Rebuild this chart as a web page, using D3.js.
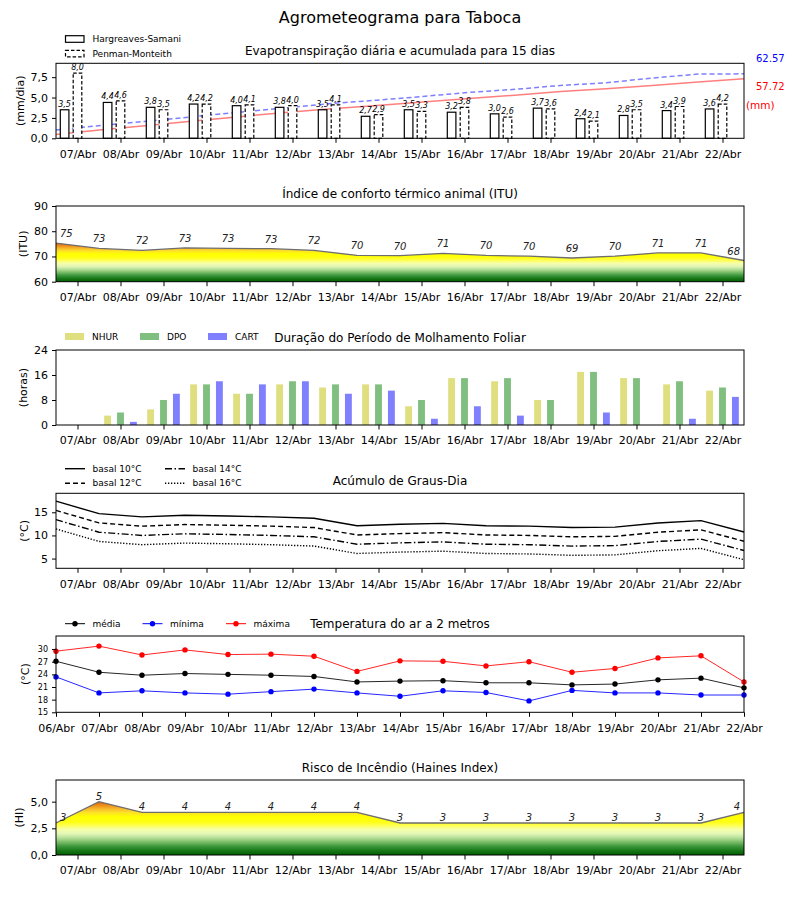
<!DOCTYPE html>
<html>
<head>
<meta charset="utf-8">
<script src="https://d3js.org/d3.v7.min.js"></script>
<style>
  body { margin: 0; background: #fff; }
  svg { font-family: 'DejaVu Sans', sans-serif; }
</style>
</head>
<body>
<div id="chart"></div>
<script>
const dias = ['07/Abr', '08/Abr', '09/Abr', '10/Abr', '11/Abr', '12/Abr', '13/Abr', '14/Abr',
    '15/Abr', '16/Abr', '17/Abr', '18/Abr', '19/Abr', '20/Abr', '21/Abr', '22/Abr'];
const diasTemp = ['06/Abr', '07/Abr', '08/Abr', '09/Abr', '10/Abr', '11/Abr', '12/Abr', '13/Abr', '14/Abr',
    '15/Abr', '16/Abr', '17/Abr', '18/Abr', '19/Abr', '20/Abr', '21/Abr', '22/Abr'];

// evapotranspiracao (mm/dia) e acumulado (mm)
const etHargreaves = [3.5, 4.4, 3.8, 4.2, 4.0, 3.8, 3.5, 2.7, 3.5, 3.2, 3.0, 3.7, 2.4, 2.8, 3.4, 3.6];
const etPenman = [8.0, 4.6, 3.5, 4.2, 4.1, 4.0, 4.1, 2.9, 3.3, 3.8, 2.6, 3.6, 2.1, 3.5, 3.9, 4.2];
const acumHargreaves = [3.7, 8.3, 12.5, 16.8, 21.0, 25.0, 28.7, 31.8, 35.3, 38.6, 41.8, 45.4, 48.2, 51.2, 54.6, 57.72];
const acumPenman = [8.0, 12.6, 16.6, 21.0, 25.3, 29.5, 33.8, 37.0, 40.6, 44.6, 47.5, 51.3, 53.9, 58.5, 62.3, 62.57];

// ITU (meio-dia a meio-dia)
const itu = [75.3, 73.2, 72.4, 73.4, 73.2, 73.1, 72.4, 70.4, 70.3, 71.2, 70.4, 70.1, 69.4, 70.1, 71.4, 71.4, 68.4];

// molhamento foliar (horas)
const nhur = [0, 3, 5, 13, 10, 13, 12, 13, 6, 15, 14, 8, 17, 15, 13, 11];
const dpo = [0, 4, 8, 13, 10, 14, 13, 13, 8, 15, 15, 8, 17, 15, 14, 12];
const cart = [0, 1, 10, 14, 13, 14, 10, 11, 2, 6, 3, 0, 4, 0, 2, 9];

// graus-dia
const gdBasal10 = [17.4, 14.7, 14.0, 14.35, 14.2, 14.0, 13.7, 12.1, 12.4, 12.6, 12.1, 12.0, 11.7, 11.8, 12.7, 13.2, 10.75];
const gdBasal12 = [15.4, 12.7, 12.0, 12.35, 12.2, 12.0, 11.7, 10.1, 10.4, 10.6, 10.1, 10.0, 9.7, 9.8, 10.7, 11.2, 8.75];
const gdBasal14 = [13.4, 10.7, 10.0, 10.35, 10.2, 10.0, 9.7, 8.1, 8.4, 8.6, 8.1, 8.0, 7.7, 7.8, 8.7, 9.2, 6.75];
const gdBasal16 = [11.4, 8.7, 8.0, 8.35, 8.2, 8.0, 7.7, 6.1, 6.4, 6.6, 6.1, 6.0, 5.7, 5.8, 6.7, 7.2, 4.75];

// temperatura do ar (C)
const tempMedia = [27.1, 24.5, 23.8, 24.2, 24.0, 23.8, 23.5, 22.2, 22.4, 22.5, 22.0, 22.0, 21.5, 21.7, 22.7, 23.1, 20.8];
const tempMin = [23.4, 19.6, 20.1, 19.6, 19.3, 19.9, 20.5, 19.6, 18.8, 20.1, 19.7, 17.7, 20.2, 19.6, 19.6, 19.1, 19.1];
const tempMax = [29.5, 30.7, 28.6, 29.8, 28.7, 28.8, 28.3, 24.7, 27.2, 27.1, 26.0, 27.0, 24.5, 25.4, 27.9, 28.4, 22.2];

// haines
const haines = [3, 5, 4, 4, 4, 4, 4, 4, 3, 3, 3, 3, 3, 3, 3, 3, 4];

const escala = [
    [0, '#005f00'], [0.08, '#177717'], [0.16, '#3c963c'], [0.24, '#77bb66'], [0.32, '#b5df98'],
    [0.4, '#e4f7b6'], [0.48, '#f6ffaa'], [0.55, '#ffff55'], [0.62, '#ffff14'], [0.72, '#ffff00'],
    [0.8, '#fde02a'], [0.87, '#f6b52a'], [0.94, '#eb8818'], [1, '#d6600e']
];

const W = 800, H = 900;
const left = 56, right = 744;
const fmtVirgula = f => d => d3.format(f)(d).replace('.', ',');

const svg = d3.select('#chart').append('svg')
    .attr('width', W)
    .attr('height', H);
const defs = svg.append('defs');

const x = d3.scaleLinear().domain([-0.5, 15.5]).range([left, right]);
const meio = d3.range(17).map(i => i - 0.5);
const inteiro = d3.range(16);

svg.append('text')
    .attr('x', 400).attr('y', 23)
    .attr('text-anchor', 'middle')
    .attr('font-size', 16)
    .text('Agrometeograma para Taboca');

const addPanel = (top, h, yDomain, yTicks, yFmt, yLabel, yLabelX, title, xPos, xLabels, yFont) => {
    const y = d3.scaleLinear().domain(yDomain).range([top + h, top]);
    const g = svg.append('g');
    const marks = g.append('g');

    g.append('g')
        .attr('transform', `translate(0,${top + h})`)
        .call(d3.axisBottom(x).tickValues(xPos).tickFormat((d, i) => xLabels[i]).tickSize(4.5).tickPadding(7))
        .call(a => a.select('.domain').remove())
        .attr('font-size', 11).attr('font-family', null);

    g.append('g')
        .attr('transform', `translate(${left},0)`)
        .call(d3.axisLeft(y).tickValues(yTicks).tickFormat(yFmt).tickSize(4).tickPadding(4))
        .call(a => a.select('.domain').remove())
        .attr('font-size', yFont || 11).attr('font-family', null);

    g.append('rect')
        .attr('x', left).attr('y', top)
        .attr('width', right - left).attr('height', h)
        .attr('fill', 'none').attr('stroke', 'black').attr('stroke-width', 1);

    g.append('text')
        .attr('x', 400).attr('y', top - 8)
        .attr('text-anchor', 'middle')
        .attr('font-size', 12)
        .text(title);

    g.append('text')
        .attr('transform', `translate(${yLabelX},${top + h / 2}) rotate(-90)`)
        .attr('text-anchor', 'middle')
        .attr('dy', '0.35em')
        .attr('font-size', 11)
        .text(yLabel);

    return {y, marks, g};
}

const gradiente = (id, y0, y1) => {
    const lg = defs.append('linearGradient')
        .attr('id', id)
        .attr('gradientUnits', 'userSpaceOnUse')
        .attr('x1', 0).attr('x2', 0)
        .attr('y1', y0).attr('y2', y1);
    escala.forEach(s => lg.append('stop').attr('offset', s[0]).attr('stop-color', s[1]));
    return `url(#${id})`;
}

const areaColorida = (p, data, base, id, labelGap) => {
    const area = d3.area()
        .x((d, i) => x(i - 0.5))
        .y0(p.y(base))
        .y1(d => p.y(d));
    const line = d3.line()
        .x((d, i) => x(i - 0.5))
        .y(d => p.y(d));
    p.marks.append('path')
        .datum(data)
        .attr('fill', gradiente(id, p.y(base), p.y(d3.max(data))))
        .attr('d', area);
    p.marks.append('path')
        .datum(data)
        .attr('fill', 'none')
        .attr('stroke', '#6e6e6e')
        .attr('stroke-width', 1.3)
        .attr('d', line);
    p.marks.selectAll('.lbl')
        .data(data)
        .join('text')
        .attr('x', (d, i) => x(i - 0.5) + (i === 0 ? 4 : i === data.length - 1 ? -4 : 0))
        .attr('y', d => p.y(d) - labelGap)
        .attr('text-anchor', (d, i) => i === 0 ? 'start' : i === data.length - 1 ? 'end' : 'middle')
        .attr('font-size', 10)
        .attr('font-style', 'italic')
        .attr('fill', '#222')
        .text(d => Math.round(d));
}

// ---- painel 1: evapotranspiracao
const p1 = addPanel(63.3, 75, [0, 9.2], [0, 2.5, 5, 7.5], fmtVirgula('.1f'), '(mm/dia)', 20,
    'Evapotranspiração diária e acumulada para 15 dias', inteiro, dias);
const bw = x(0.2) - x(0);
const xAc = d3.scaleLinear().domain([0, 15]).range([left, right]);
const yAc = d3.scaleLinear().domain([0, 72.8]).range([138.3, 63.3]);

p1.marks.append('path')
    .datum(acumHargreaves)
    .attr('fill', 'none').attr('stroke', '#ff7f7f').attr('stroke-width', 1.5)
    .attr('d', d3.line().x((d, i) => xAc(i)).y(d => yAc(d)));
p1.marks.append('path')
    .datum(acumPenman)
    .attr('fill', 'none').attr('stroke', '#7f7fff').attr('stroke-width', 1.5)
    .attr('stroke-dasharray', '5,3')
    .attr('d', d3.line().x((d, i) => xAc(i)).y(d => yAc(d)));

[[etHargreaves, -0.3, null], [etPenman, 0, '3.5,2']].forEach(([serie, off, dash]) => {
    p1.marks.append('g').selectAll('rect')
        .data(serie)
        .join('rect')
        .attr('x', (d, i) => x(i + off) - bw / 2)
        .attr('width', bw)
        .attr('y', d => p1.y(d))
        .attr('height', d => p1.y(0) - p1.y(d))
        .attr('fill', 'white')
        .attr('stroke', 'black')
        .attr('stroke-width', 1.2)
        .attr('stroke-dasharray', dash);
    p1.marks.append('g').selectAll('text')
        .data(serie)
        .join('text')
        .attr('x', (d, i) => x(i + off))
        .attr('y', d => p1.y(d) - 3)
        .attr('text-anchor', 'middle')
        .attr('font-size', 8)
        .attr('font-style', 'italic')
        .text(d => fmtVirgula('.1f')(d));
});

svg.append('text').attr('x', 756).attr('y', 62).attr('font-size', 10).attr('fill', 'blue')
    .text(d3.format('.2f')(acumPenman[acumPenman.length - 1]));
svg.append('text').attr('x', 756).attr('y', 90).attr('font-size', 10).attr('fill', 'red')
    .text(d3.format('.2f')(acumHargreaves[acumHargreaves.length - 1]));
svg.append('text').attr('x', 746).attr('y', 109).attr('font-size', 10.5).attr('fill', 'red')
    .text('(mm)');

// legenda painel 1
[['Hargreaves-Samani', null, 39], ['Penman-Monteith', '3.5,2', 53.6]].forEach(([nome, dash, yy]) => {
    svg.append('rect')
        .attr('x', 65.5).attr('y', yy - 3.3).attr('width', 18.5).attr('height', 6.6)
        .attr('fill', 'white').attr('stroke', 'black').attr('stroke-width', 1.2)
        .attr('stroke-dasharray', dash);
    svg.append('text')
        .attr('x', 92.5).attr('y', yy).attr('dy', '0.35em')
        .attr('font-size', 9)
        .text(nome);
});

// ---- painel 2: ITU
const p2 = addPanel(206, 75.7, [60, 90], [60, 70, 80, 90], d3.format('d'), '(ITU)', 23,
    'Índice de conforto térmico animal (ITU)', inteiro, dias);
areaColorida(p2, itu, 60, 'gradItu', 6);

// ---- painel 3: molhamento foliar
const p3 = addPanel(350, 75, [0, 24], [0, 8, 16, 24], d3.format('d'), '(horas)', 23,
    'Duração do Período de Molhamento Foliar', inteiro, dias);
const mw = x(0.16) - x(0);
const molhamento = [[nhur, 'NHUR', '#dfdf80', -0.3], [dpo, 'DPO', '#80bf80', 0], [cart, 'CART', '#8080ff', 0.3]];
molhamento.forEach(([serie, nome, cor, off], k) => {
    p3.marks.append('g').selectAll('rect')
        .data(serie)
        .join('rect')
        .attr('x', (d, i) => x(i + off) - mw / 2)
        .attr('width', mw)
        .attr('y', d => p3.y(d))
        .attr('height', d => p3.y(0) - p3.y(d))
        .attr('fill', cor);
    const lx = [65, 140, 208][k];
    svg.append('rect')
        .attr('x', lx).attr('y', 333).attr('width', 19).attr('height', 7)
        .attr('fill', cor);
    svg.append('text')
        .attr('x', lx + 27).attr('y', 336.5).attr('dy', '0.35em')
        .attr('font-size', 9)
        .text(nome);
});

// ---- painel 4: graus-dia
const p4 = addPanel(493.3, 75, [2.9, 19.1], [5, 10, 15], d3.format('d'), '(°C)', 24,
    'Acúmulo de Graus-Dia', inteiro, dias);
const graus = [
    [gdBasal10, 'basal 10°C', null, 65, 468.7],
    [gdBasal12, 'basal 12°C', '5,3', 65, 483.3],
    [gdBasal14, 'basal 14°C', '7,2.5,1.5,2.5', 165, 468.7],
    [gdBasal16, 'basal 16°C', '1.3,1.7', 165, 483.3]
];
graus.forEach(([serie, nome, dash, lx, ly]) => {
    p4.marks.append('path')
        .datum(serie)
        .attr('fill', 'none').attr('stroke', 'black').attr('stroke-width', 1.4)
        .attr('stroke-dasharray', dash)
        .attr('d', d3.line().x((d, i) => x(i - 0.5)).y(d => p4.y(d)));
    svg.append('line')
        .attr('x1', lx).attr('x2', lx + 20).attr('y1', ly).attr('y2', ly)
        .attr('stroke', 'black').attr('stroke-width', 1.4).attr('stroke-dasharray', dash);
    svg.append('text')
        .attr('x', lx + 27.5).attr('y', ly).attr('dy', '0.35em')
        .attr('font-size', 9)
        .text(nome);
});

// ---- painel 5: temperatura
const p5 = addPanel(636, 76.3, [15, 33.1], [15, 18, 21, 24, 27, 30], d3.format('d'), '(°C)', 25,
    'Temperatura do ar a 2 metros', meio, diasTemp, 8);
const temps = [
    [tempMedia, 'média', 'black', 65],
    [tempMin, 'mínima', 'blue', 142.5],
    [tempMax, 'máxima', 'red', 226]
];
temps.forEach(([serie, nome, cor, lx]) => {
    p5.marks.append('path')
        .datum(serie)
        .attr('fill', 'none').attr('stroke', cor).attr('stroke-width', 1).attr('stroke-opacity', 0.85)
        .attr('d', d3.line().x((d, i) => x(i - 0.5)).y(d => p5.y(d)));
    p5.marks.append('g').selectAll('circle')
        .data(serie)
        .join('circle')
        .attr('cx', (d, i) => x(i - 0.5))
        .attr('cy', d => p5.y(d))
        .attr('r', 2.7)
        .attr('fill', cor);
    svg.append('line')
        .attr('x1', lx).attr('x2', lx + 20).attr('y1', 623.7).attr('y2', 623.7)
        .attr('stroke', cor).attr('stroke-width', 1);
    svg.append('circle')
        .attr('cx', lx + 10).attr('cy', 623.7).attr('r', 2.7).attr('fill', cor);
    svg.append('text')
        .attr('x', lx + 27.5).attr('y', 623.7).attr('dy', '0.35em')
        .attr('font-size', 9)
        .text(nome);
});

// ---- painel 6: haines
const p6 = addPanel(780, 75, [0, 7.03], [0, 2.5, 5], fmtVirgula('.1f'), '(HI)', 19,
    'Risco de Incêndio (Haines Index)', inteiro, dias);
areaColorida(p6, haines, 0, 'gradHaines', 2);
</script>
</body>
</html>
